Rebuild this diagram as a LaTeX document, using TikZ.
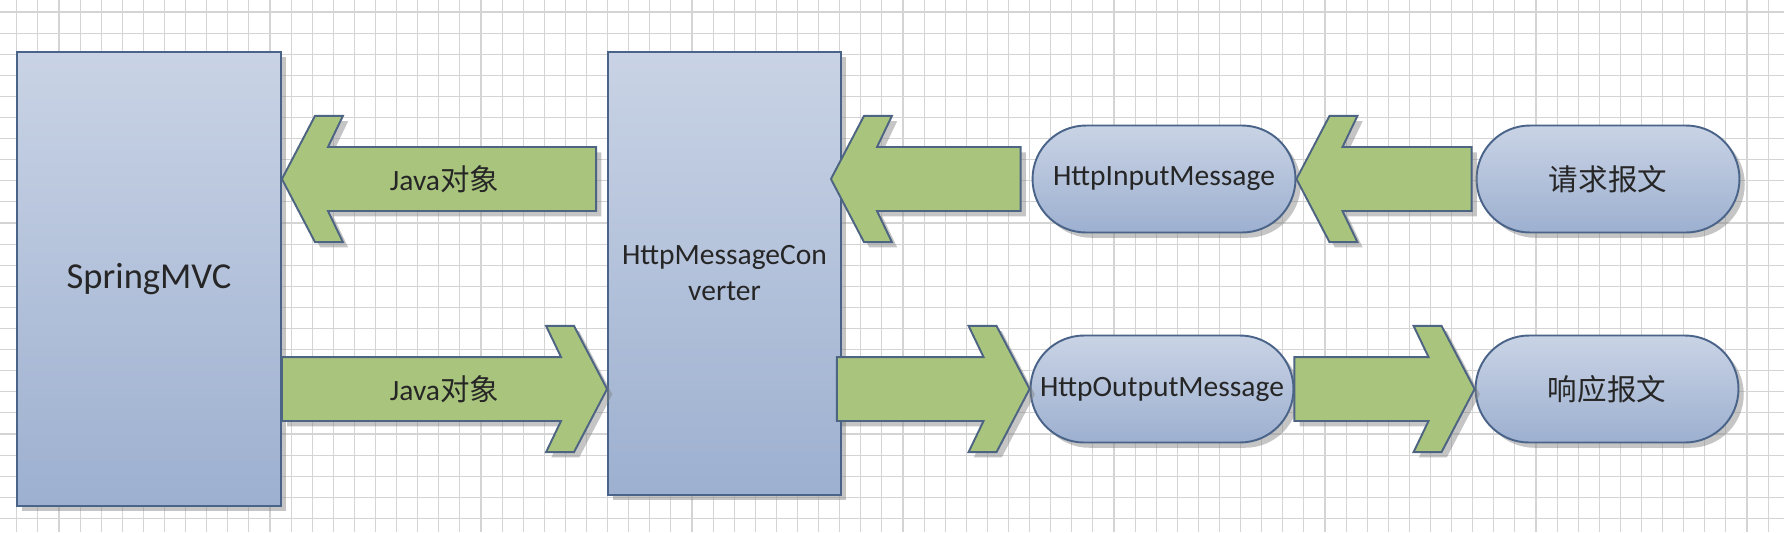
\documentclass[tikz,border=0pt]{standalone}
\usepackage{fontspec}
\setmainfont{Carlito}
\newfontfamily\cjk{Noto Sans CJK SC}
\usepackage{tikz}
\usetikzlibrary{positioning}
\usetikzlibrary{shapes,arrows,calc,shadows}

\definecolor{boxtop}{HTML}{C9D3E5}
\definecolor{boxbot}{HTML}{9DB0D0}
\definecolor{boxline}{HTML}{4A6389}
\definecolor{arrowfill}{HTML}{A9C47C}
\definecolor{arrowline}{HTML}{4D6482}
\definecolor{gridgray}{HTML}{D4D4D4}
\definecolor{textgray}{HTML}{262626}

\newcommand{\labfont}{\fontsize{16.8}{20.5}\selectfont}
\newcommand{\bigfont}{\fontsize{20.8}{25}\selectfont}

\tikzset{
  block/.style={draw=boxline, line width=1.1pt, rectangle, top color=boxtop, bottom color=boxbot,
    text=textgray, align=center,
    drop shadow={shadow xshift=3pt, shadow yshift=-3pt, opacity=0.45}},
  msg/.style={block, rounded corners=1.07cm, minimum width=5.26cm, minimum height=2.14cm, inner sep=0pt},
  fat/.style={draw=arrowline, line width=1.1pt, fill=arrowfill, line join=miter,
    drop shadow={shadow xshift=3pt, shadow yshift=-3pt, opacity=0.45}},
  grid line/.style={draw=gridgray, line width=0.6pt}
}

% fat arrow from tail #1 to tip #2
\newcommand{\fatarrow}[2]{%
  \draw[fat] let \p1=#1, \p2=#2, \n1={sign(\x2-\x1)} in
    (\x2,\y2) -- ++({-\n1*18.8pt},35.9pt) -- ++({-\n1*15.9pt},0pt)
    -- ++({\n1*8.5pt},-17.7pt) -- (\x1,\y2+18.2pt) -- (\x1,\y2-18.2pt)
    -- ({\x2-\n1*26.2pt},\y2-18.2pt) -- ++({-\n1*8.5pt},-17.7pt)
    -- ++({\n1*15.9pt},0pt) -- cycle;}

\begin{document}
\begin{tikzpicture}[x=0.02cm, y=-0.02cm, every node/.style={font=\labfont, text=textgray}]
    \useasboundingbox (0,0) rectangle (1784,532);
    \fill[white] (0,0) rectangle (1784,532);
    % Grid
    \foreach \gx in {0,...,84} \draw[grid line] ({16.8+21.1*\gx},0) -- ({16.8+21.1*\gx},532);
    \foreach \gy in {0,...,25} \draw[grid line] (0,{12+21.1*\gy}) -- (1784,{12+21.1*\gy});

    % Nodes
    \node[block, minimum width=5.28cm, minimum height=9.08cm, font=\bigfont] (spring) at (149,279) {SpringMVC};
    \node[block, minimum width=4.66cm, minimum height=8.86cm] (conv) at (724.5,273.5) {HttpMessageCon\\verter};
    \node[msg] (in1) at (1164,179) {HttpInputMessage};
    \node[msg] (req) at (1608,179) {\cjk 请求报文};
    \node[msg] (out) at (1162,389) {HttpOutputMessage};
    \node[msg] (resp) at (1607,389) {\cjk 响应报文};

    % Arrows
    \fatarrow{($(conv.west |- in1)+(-11,0)$)}{(spring.east |- in1)}
    \fatarrow{($(in1.west)+(-11,0)$)}{($(conv.east |- in1)+(-11,0)$)}
    \fatarrow{($(req.west)+(-4,0)$)}{(in1.east)}
    \fatarrow{(spring.east |- out)}{(conv.west |- out)}
    \fatarrow{($(conv.east |- out)+(-5,0)$)}{(out.west)}
    \fatarrow{(out.east)}{(resp.west)}

    % Labels
    \node (javain) at ($(conv.west |- in1)!0.5!(spring.east |- in1)$) {Java{\cjk 对象}};
    \node (javaout) at ($(spring.east |- out)!0.5!(conv.west |- out)$) {Java{\cjk 对象}};
\end{tikzpicture}
\end{document}
